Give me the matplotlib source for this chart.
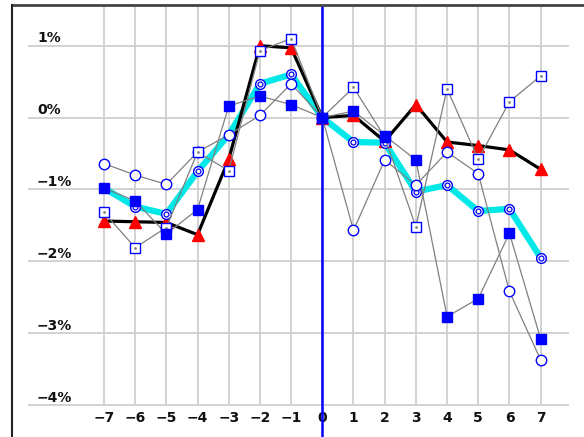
import matplotlib
matplotlib.use("Agg")
import matplotlib.pyplot as plt
from matplotlib.lines import Line2D
from matplotlib import font_manager

days = [-7, -6, -5, -4, -3, -2, -1, 0, 1, 2, 3, 4, 5, 6, 7]
black_tri = [-1.44, -1.45, -1.46, -1.63, -0.58, 1.00, 0.97, 0.0, 0.03, -0.33, 0.18, -0.34, -0.39, -0.45, -0.72]
cyan_at = [-0.98, -1.24, -1.34, -0.75, -0.24, 0.47, 0.60, 0.0, -0.34, -0.35, -1.03, -0.94, -1.30, -1.27, -1.95]
filled_sq = [-0.98, -1.16, -1.62, -1.28, 0.16, 0.30, 0.18, 0.0, 0.09, -0.25, -0.59, -2.77, -2.52, -1.61, -3.08]
open_sq = [-1.32, -1.81, -1.53, -0.48, -0.74, 0.93, 1.10, 0.0, 0.42, -0.27, -1.52, 0.40, -0.58, 0.22, 0.58]
open_circ = [-0.64, -0.80, -0.93, -0.48, -0.24, 0.03, 0.47, 0.0, -1.57, -0.59, -0.94, -0.48, -0.78, -2.42, -3.37]

y_ticks = [1, 0, -1, -2, -3, -4]
y_labels = ["1%", "0%", "\u22121%", "\u22122%", "\u22123%", "\u22124%"]
x_labels = ["\u22127", "\u22126", "\u22125", "\u22124", "\u22123", "\u22122", "\u22121", "0", "1", "2", "3", "4", "5", "6", "7"]

names = {f.name for f in font_manager.fontManager.ttflist}
fam = "Liberation Sans Narrow" if "Liberation Sans Narrow" in names else "DejaVu Sans"

W, H = 584, 437
fig = plt.figure(figsize=(W / 100, H / 100), dpi=100)
ax = fig.add_axes([0, 0, 1, 1])
x0px, sx = 322.3, 31.19
y0px, sy = 117.56, 71.86
ax.set_xlim(-x0px / sx, (W - x0px) / sx)
ax.set_ylim((y0px - H) / sy, y0px / sy)
ax.axis("off")

grid_c = "#cfcfcf"
xl, xr = (28 - x0px) / sx, (569 - x0px) / sx
ytop = (y0px - 7) / sy
for v in y_ticks:
    ax.plot([xl, xr], [v, v], color=grid_c, lw=1.3, zorder=1, solid_capstyle="butt")
for d in days:
    ax.plot([d, d], [-4, ytop], color=grid_c, lw=1.3, zorder=1, solid_capstyle="butt")

fs = 12 if fam != "DejaVu Sans" else 10
font = dict(family=fam, fontweight="bold", fontsize=fs, color="#111111")
for v, lab in zip(y_ticks, y_labels):
    ax.text((37 - x0px) / sx, v + 0.005, lab, ha="left", va="bottom", **font)
for d, lab in zip(days, x_labels):
    ax.text(d, (y0px - 418) / sy, lab, ha="center", va="center", **font)

# cyan series
ax.plot(days, cyan_at, color="#00e8e8", lw=4.5, zorder=3, solid_joinstyle="miter")
ax.plot(days, cyan_at, ls="none", marker="o", ms=7, mfc="white", mec="#0000ff", mew=1.0, zorder=6)
ax.plot(days, cyan_at, ls="none", marker="o", ms=3.5, mfc="white", mec="#0000ff", mew=0.9, zorder=7)

# black with red triangles
ax.plot(days, black_tri, color="black", lw=2.3, zorder=4)
ax.plot(days, black_tri, ls="none", marker="^", ms=8, color="#ff0000", zorder=5)

gray = "#808080"
# open circles
ax.plot(days, open_circ, color=gray, lw=0.9, zorder=8)
ax.plot(days, open_circ, ls="none", marker="o", ms=7.5, mfc="white", mec="#0000ff", mew=1.0, zorder=9)
# open squares
ax.plot(days, open_sq, color=gray, lw=0.9, zorder=8)
ax.plot(days, open_sq, ls="none", marker="s", ms=7, mfc="white", mec="#0000ff", mew=1.0, zorder=9)
ax.plot(days, open_sq, ls="none", marker="o", ms=2, color=gray, mew=0, zorder=10)
# filled squares
ax.plot(days, filled_sq, color=gray, lw=0.9, zorder=8)
ax.plot(days, filled_sq, ls="none", marker="s", ms=6.5, color="#0000ff", zorder=10)

# blue zero line
ax.plot([0, 0], [(y0px - H) / sy, ytop], color="#0000ff", lw=1.8, zorder=12)

# frame
fig.add_artist(Line2D([12 / W, 1], [1 - 5 / H, 1 - 5 / H], color="#444444", lw=2.0, transform=fig.transFigure))
fig.add_artist(Line2D([12 / W, 12 / W], [0, 1 - 5 / H], color="#222222", lw=1.5, transform=fig.transFigure))

fig.savefig("out.png", dpi=100)
